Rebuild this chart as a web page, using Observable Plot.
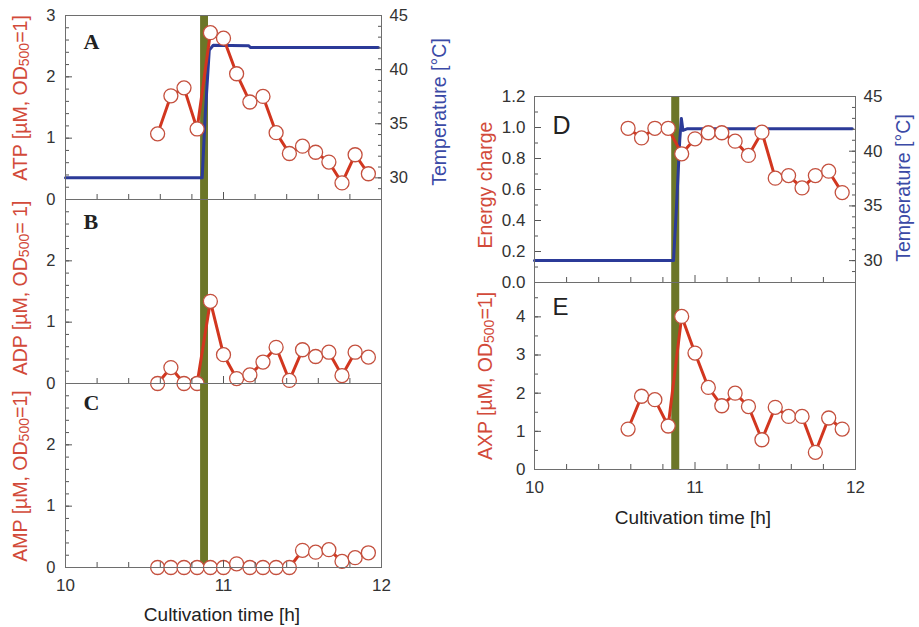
<!DOCTYPE html>
<html><head><meta charset="utf-8">
<script src="https://cdn.jsdelivr.net/npm/d3@7"></script>
<script src="https://cdn.jsdelivr.net/npm/@observablehq/plot@0.6"></script>
<style>
body{margin:0;background:#fff;}
#wrap{position:relative;width:919px;height:627px;overflow:hidden;font-family:"Liberation Sans",Arial,sans-serif;}
#wrap svg{position:absolute;left:0;top:0;}
.lab{position:absolute;white-space:nowrap;font-size:19.5px;line-height:1;transform:translate(-50%,-50%) rotate(-90deg);}
.hl{position:absolute;white-space:nowrap;font-size:19px;line-height:1;color:#222;transform:translate(-50%,-50%);}
.lab sub{font-size:0.72em;vertical-align:-0.15em;}
</style></head><body><div id="wrap"></div>
<script>
// ---- data ----
const time = [10.583,10.667,10.75,10.833,10.917,11.0,11.083,11.167,11.25,11.333,11.417,11.5,11.583,11.667,11.75,11.833,11.917];
const atp  = [1.07,1.69,1.82,1.15,2.72,2.63,2.05,1.59,1.68,1.09,0.75,0.87,0.77,0.61,0.27,0.73,0.42];
const adp  = [0.00,0.26,0.00,0.00,1.34,0.47,0.08,0.14,0.35,0.59,0.05,0.55,0.44,0.51,0.13,0.51,0.43];
const amp  = [0.00,0.00,0.00,0.00,0.00,0.00,0.06,0.00,0.00,0.00,0.00,0.28,0.25,0.29,0.10,0.16,0.24];
const energyCharge = [0.995,0.933,0.995,0.995,0.83,0.927,0.966,0.966,0.912,0.82,0.97,0.673,0.69,0.61,0.69,0.718,0.58];
const axp  = [1.06,1.92,1.83,1.14,4.01,3.05,2.15,1.67,2.00,1.65,0.78,1.63,1.39,1.39,0.45,1.35,1.06];
const tempTimeA = [10.0,10.865,10.885,10.91,10.935,11.16,11.17,11.98];
const tempA     = [30.0,30.0,36.0,41.8,42.25,42.2,42.05,42.05];
const tempTimeD = [10.0,10.866,10.885,10.905,10.915,10.925,10.95,11.98];
const tempD     = [30.0,30.0,35.0,41.0,43.0,41.9,42.05,42.05];
const heatShock = [{start:10.855,end:10.905}];
const xTickLabels = [10,11,12];
const xMinorTicks = [10.2,10.4,10.6,10.8,11.2,11.4,11.6,11.8];
const nucTicksA = [0,1,2,3];
const nucTicksBC = [0,1,2];
const tempTicks = [30,35,40,45];
const ecTicks = [0,0.2,0.4,0.6,0.8,1.0,1.2];
const axpTicks = [0,1,2,3,4];

// ---- style ----
const RED="#d2361f", CIRC="#c4503e", BLUE="#2b3a98", GREEN="#6c7628", AX="#555", TXT="#333";
const W=919,H=627;
const wrap=document.getElementById("wrap");
const FONT="'Liberation Sans',Arial,sans-serif";

function panel({x0,x1,y0,y1,yDomain,marks}){
  const svg=Plot.plot({width:W,height:H,marginLeft:x0,marginRight:W-x1,marginTop:y0,marginBottom:H-y1,
    x:{domain:[10,12],axis:null}, y:{domain:yDomain,axis:null},
    style:{background:"transparent",fontFamily:FONT,fontSize:"16px",color:TXT,overflow:"visible"},
    marks});
  wrap.appendChild(svg);
}
function series(values){
  const d=time.map((t,i)=>({t,v:values[i]}));
  return [Plot.line(d,{x:"t",y:"v",stroke:RED,strokeWidth:3}),
          Plot.dot(d,{x:"t",y:"v",r:7,fill:"white",stroke:CIRC,strokeWidth:1.3})];
}
function band(){ return Plot.rect(heatShock,{x1:"start",x2:"end",fill:GREEN}); }
function xTicks(){
  return [Plot.axisX({ticks:xMinorTicks,anchor:"bottom",tickSize:-5,fill:"none",stroke:AX,label:null}),
          Plot.axisX({ticks:[11],anchor:"bottom",tickSize:-7,fill:"none",stroke:AX,label:null})];
}
function xLabels(){
  return Plot.axisX({ticks:xTickLabels,anchor:"bottom",tickSize:0,tickPadding:11,stroke:"none",fill:TXT,label:null,fontSize:17,tickFormat:d=>String(d)});
}
function yAxis(anchor,major,minor,pad,fmt,size){
  return [Plot.axisY({ticks:minor,anchor,tickSize:-4,fill:"none",stroke:AX,label:null}),
          Plot.axisY({ticks:major,anchor,tickSize:-7,fill:"none",stroke:AX,label:null}),
          Plot.axisY({ticks:major,anchor,tickSize:0,tickPadding:pad,stroke:"none",fill:TXT,label:null,tickFormat:fmt,fontSize:size})];
}
function letter(txt,dy,serif,size){
  return Plot.text([txt],{text:d=>d,frameAnchor:"top-left",dx:18,dy,textAnchor:"start",lineAnchor:"top",
    fontFamily:serif?"'Liberation Serif','Times New Roman',serif":FONT,fontWeight:serif?"bold":"normal",fontSize:size,fill:"#222"});
}
const range=(a,b,s)=>d3.range(Math.round((b-a)/s)+1).map(i=>+(a+i*s).toFixed(3));

// ---- left column ----
const L={x0:65,x1:381};
panel({...L,y0:15,y1:199,yDomain:[28,45],marks:[
  band(),
  Plot.line(tempTimeA.map((t,i)=>({t,v:tempA[i]})),{x:"t",y:"v",stroke:BLUE,strokeWidth:3}),
  ...yAxis("right",tempTicks,range(28,45,1),8,d=>d,16.5)
]});
panel({...L,y0:15,y1:199,yDomain:[0,3],marks:[
  ...series(atp), ...xTicks(), ...yAxis("left",nucTicksA,range(0,3,0.2),10,d=>d,16.5),
  Plot.frame({stroke:"#6e6e6e"}), letter("A",18,true,22)
]});
panel({...L,y0:199,y1:383,yDomain:[0,3],marks:[
  band(), ...series(adp), ...xTicks(), ...yAxis("left",nucTicksBC,range(0,3,0.2),10,d=>d,16.5),
  Plot.frame({stroke:"#6e6e6e"}), letter("B",14,true,22)
]});
panel({...L,y0:383,y1:567,yDomain:[0,3],marks:[
  band(), ...series(amp), ...xTicks(), xLabels(), ...yAxis("left",nucTicksBC,range(0,3,0.2),10,d=>d,16.5),
  Plot.frame({stroke:"#6e6e6e"}), letter("C",11,true,22)
]});

// ---- right column ----
const R={x0:534,x1:855};
panel({...R,y0:96,y1:282,yDomain:[28,45],marks:[
  band(),
  Plot.line(tempTimeD.map((t,i)=>({t,v:tempD[i]})),{x:"t",y:"v",stroke:BLUE,strokeWidth:3}),
  ...yAxis("right",tempTicks,range(28,45,1),8,d=>d,17)
]});
panel({...R,y0:96,y1:282,yDomain:[0,1.2],marks:[
  ...series(energyCharge), ...xTicks(), ...yAxis("left",ecTicks,range(0,1.2,0.1),9,d3.format(".1f"),17),
  Plot.frame({stroke:"#6e6e6e"}), letter("D",20,false,25)
]});
panel({...R,y0:282,y1:469,yDomain:[0,4.9],marks:[
  band(), ...series(axp), ...xTicks(), xLabels(), ...yAxis("left",axpTicks,range(0,4.5,0.5),9,d=>d,17),
  Plot.frame({stroke:"#6e6e6e"}), letter("E",15,false,24)
]});

// ---- axis titles ----
function lab(html,x,y,color,cls="lab"){
  const d=document.createElement("div"); d.className=cls; d.innerHTML=html;
  d.style.left=x+"px"; d.style.top=y+"px"; d.style.color=color; wrap.appendChild(d);
}
const LRED="#d24a3a", LBLUE="#3b4aa6";
lab("ATP [µM, OD<sub>500</sub>=1]",21,98,LRED);
lab("ADP [µM, OD<sub>500</sub>= 1]",21,288,LRED);
lab("AMP [µM, OD<sub>500</sub>=1]",21,476,LRED);
lab("Temperature [°C]",440,112,LBLUE);
lab("Energy charge",486,185,LRED);
lab("AXP [µM, OD<sub>500</sub>=1]",486,376,LRED);
lab("Temperature [°C]",904,188,LBLUE);
lab("Cultivation time [h]",222,614,"#222","hl");
lab("Cultivation time [h]",693,517,"#222","hl");
</script></body></html>
